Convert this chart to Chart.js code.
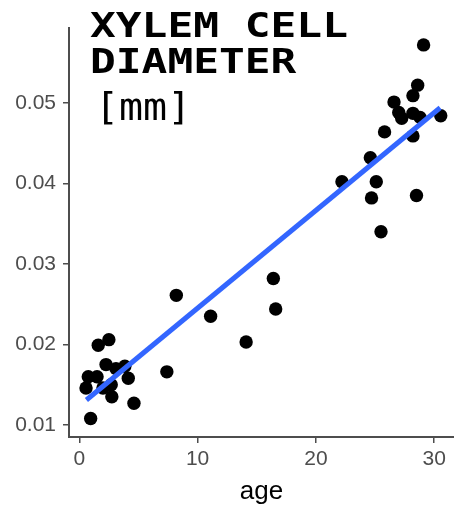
<!DOCTYPE html>
<html>
<head>
<meta charset="utf-8">
<script src="https://cdn.jsdelivr.net/npm/chart.js@4/dist/chart.umd.min.js"></script>
<style>
  html, body { margin: 0; padding: 0; background: #fff; }
  #plot { display: block; }
</style>
</head>
<body>
<canvas id="plot" width="454" height="507"></canvas>
<script>
// observed points (age in years, diameter in mm)
const ageValues = [
  0.57, 0.76, 0.96, 1.5, 1.6, 2.0, 2.26, 2.5, 2.7, 2.75, 3.1, 3.85, 4.14, 4.62,
  7.4, 8.2, 11.1, 14.1, 16.4, 16.6,
  22.2, 24.6, 24.7, 25.1, 25.5, 25.8, 26.6, 27.0, 27.25, 28.2, 28.2, 28.2, 28.5, 28.6, 28.8, 29.1, 30.55
];
const diameterValues = [
  0.0146, 0.0160, 0.0108, 0.0160, 0.0199, 0.0146, 0.0175, 0.0206, 0.0150, 0.0135, 0.0170, 0.0173, 0.0158, 0.0127,
  0.0166, 0.0261, 0.0235, 0.0203, 0.0282, 0.0244,
  0.0402, 0.0432, 0.0382, 0.0402, 0.0340, 0.0464, 0.0501, 0.0488, 0.0481, 0.0509, 0.0487, 0.0459, 0.0385, 0.0522, 0.0482, 0.0572, 0.0484
];

// fitted line ends
const fitAge = [0.6, 30.5];
const fitDiameter = [0.0131, 0.0494];

const xTicks = [0, 10, 20, 30];
const yTicks = [0.01, 0.02, 0.03, 0.04, 0.05];
const titleLines = ['XYLEM CELL', 'DIAMETER', '[mm]'];

const axisGrey = '#4d4d4d';

const titleInPanel = {
  id: 'titleInPanel',
  afterDraw(chart) {
    const ctx = chart.ctx;
    const baselines = [36.5, 73, 120];
    ctx.save();
    ctx.fillStyle = '#000';
    ctx.textBaseline = 'alphabetic';
    ctx.textAlign = 'left';
    titleLines.forEach((t, i) => {
      ctx.save();
      if (i < 2) {
        ctx.translate(90, baselines[i]);
        ctx.scale(1.26, 1);
        ctx.font = 'bold 34px "DejaVu Sans Mono"';
      } else {
        ctx.translate(95, baselines[i]);
        ctx.scale(1.08, 1);
        ctx.font = '37px "DejaVu Sans Mono"';
      }
      ctx.fillText(t, 0, 0);
      ctx.restore();
    });
    ctx.restore();
  }
};

const points = ageValues.map((a, i) => ({ x: a, y: diameterValues[i] }));
const fit = fitAge.map((a, i) => ({ x: a, y: fitDiameter[i] }));

new Chart(document.getElementById('plot'), {
  type: 'scatter',
  data: {
    datasets: [
      {
        type: 'line',
        data: fit,
        borderColor: '#3366ff',
        borderWidth: 5,
        pointRadius: 0,
        fill: false,
        order: 1
      },
      {
        data: points,
        backgroundColor: '#000',
        borderWidth: 0,
        pointRadius: 6.7,
        order: 2
      }
    ]
  },
  options: {
    responsive: false,
    animation: false,
    layout: { autoPadding: false, padding: { top: 28, right: 0, left: 0, bottom: 0 } },
    plugins: {
      legend: { display: false },
      tooltip: { enabled: false }
    },
    scales: {
      x: {
        type: 'linear',
        min: -0.87,
        max: 31.67,
        afterBuildTicks: s => { s.ticks = xTicks.map(v => ({ value: v })); },
        afterFit: s => { s.height = 70; s.paddingLeft = 0; s.paddingRight = 0; },
        grid: { drawOnChartArea: false, drawTicks: true, tickLength: 6, color: axisGrey, lineWidth: 1.5 },
        border: { display: true, color: axisGrey, width: 2 },
        ticks: {
          color: axisGrey,
          padding: 4,
          font: { family: '"Liberation Sans", Arial, sans-serif', size: 21 },
          callback: v => String(v)
        },
        title: {
          display: true,
          text: 'age',
          color: '#000',
          padding: { top: 2, bottom: 0 },
          font: { family: '"Liberation Sans", Arial, sans-serif', size: 26 }
        }
      },
      y: {
        type: 'linear',
        min: 0.00851,
        max: 0.0593,
        afterBuildTicks: s => { s.ticks = yTicks.map(v => ({ value: v })); },
        afterFit: s => { s.width = 69; s.paddingTop = 0; s.paddingBottom = 0; },
        grid: { drawOnChartArea: false, drawTicks: true, tickLength: 6, color: axisGrey, lineWidth: 1.5 },
        border: { display: true, color: axisGrey, width: 2 },
        ticks: {
          color: axisGrey,
          padding: 7,
          font: { family: '"Liberation Sans", Arial, sans-serif', size: 21 },
          callback: v => v.toFixed(2)
        }
      }
    }
  },
  plugins: [titleInPanel]
});
</script>
</body>
</html>
